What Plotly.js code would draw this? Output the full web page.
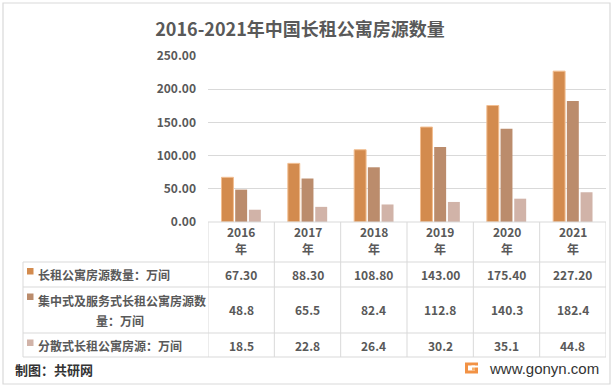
<!DOCTYPE html>
<html>
<head>
<meta charset="utf-8">
<script src="https://cdn.plot.ly/plotly-3.0.1.min.js"></script>
<style>
  html, body { margin: 0; padding: 0; background: #fff; }
  #chart { width: 613px; height: 390px; }
</style>
</head>
<body>
<div id="chart"></div>
<script>
// ---- data ----
var years = ['2016', '2017', '2018', '2019', '2020', '2021'];
var yearSuffix = '年';
var seriesNames = ['长租公寓房源数量：万间', '集中式及服务式长租公寓房源数量：万间', '分散式长租公寓房源：万间'];
var totalUnits = [67.30, 88.30, 108.80, 143.00, 175.40, 227.20];
var centralizedUnits = [48.8, 65.5, 82.4, 112.8, 140.3, 182.4];
var dispersedUnits = [18.5, 22.8, 26.4, 30.2, 35.1, 44.8];
var yTicks = [0, 50, 100, 150, 200, 250];

// ---- styling ----
var colors = ['#D38B4E', '#BB8C6C', '#D1B3A8'];
var gridColor = '#D9D9D9';
var textColor = '#595959';
var cjk = '"Noto Sans CJK SC", "Microsoft YaHei", sans-serif';

var W = 613, H = 390;
var L = 208, R = 606, T = 56, B = 222;
function px(x) { return (x - L) / (R - L); }
function py(y) { return (B - y) / (B - T); }

var traces = [
  { type: 'bar', x: years, y: totalUnits, name: seriesNames[0],
    marker: { color: colors[0], line: { color: '#F2BE91', width: 1 } }, hoverinfo: 'skip' },
  { type: 'bar', x: years, y: centralizedUnits, name: seriesNames[1],
    marker: { color: colors[1], line: { width: 0 } }, hoverinfo: 'skip' },
  { type: 'bar', x: years, y: dispersedUnits, name: seriesNames[2],
    marker: { color: colors[2], line: { width: 0 } }, hoverinfo: 'skip' }
];

var shapes = [];
var annotations = [];
var lineStyle = { color: gridColor, width: 1 };

// outer border
shapes.push({ type: 'rect', xref: 'paper', yref: 'paper',
  x0: px(3), x1: px(610), y0: py(3), y1: py(384), line: { color: '#D9D9D9', width: 1.2 }, layer: 'below' });

// table geometry (pixels)
var rowTops = [222, 262, 287, 333, 357];
var leftX = 23;
// vertical lines of data columns
for (var k = 0; k <= years.length; k++) {
  shapes.push({ type: 'line', xref: 'x', yref: 'paper',
    x0: k - 0.5, x1: k - 0.5, y0: py(222), y1: py(357), line: lineStyle });
}
// left column vertical line
shapes.push({ type: 'line', xref: 'paper', yref: 'paper',
  x0: px(leftX), x1: px(leftX), y0: py(262), y1: py(357), line: lineStyle });
// horizontal lines
shapes.push({ type: 'line', xref: 'paper', yref: 'paper',
  x0: px(L), x1: px(R), y0: py(222), y1: py(222), line: lineStyle });
[262, 287, 333, 357].forEach(function (yy) {
  shapes.push({ type: 'line', xref: 'paper', yref: 'paper',
    x0: px(leftX), x1: px(R), y0: py(yy), y1: py(yy), line: lineStyle });
});

var tFont = { family: cjk, size: 12, color: textColor, weight: 600 };

// header years
years.forEach(function (yr, i) {
  annotations.push({ xref: 'x', yref: 'paper', x: i, y: py(231.5), text: yr,
    showarrow: false, xanchor: 'center', yanchor: 'middle', font: tFont });
  annotations.push({ xref: 'x', yref: 'paper', x: i, y: py(248.5), text: yearSuffix,
    showarrow: false, xanchor: 'center', yanchor: 'middle', font: tFont });
});

// row values
var rowData = [
  { vals: totalUnits, dec: 2, y: 274.5 },
  { vals: centralizedUnits, dec: 1, y: 309.5 },
  { vals: dispersedUnits, dec: 1, y: 345 }
];
rowData.forEach(function (r) {
  r.vals.forEach(function (v, i) {
    annotations.push({ xref: 'x', yref: 'paper', x: i, y: py(r.y), text: v.toFixed(r.dec),
      showarrow: false, xanchor: 'center', yanchor: 'middle', font: tFont });
  });
});

// row labels with legend markers
var markerTops = [268, 293.5, 339.5];
markerTops.forEach(function (mt, i) {
  shapes.push({ type: 'rect', xref: 'paper', yref: 'paper',
    x0: px(27), x1: px(33.5), y0: py(mt), y1: py(mt + 6.5), fillcolor: colors[i], line: { width: 0 } });
});
annotations.push({ xref: 'paper', yref: 'paper', x: px(36), y: py(274.5), text: seriesNames[0],
  showarrow: false, xanchor: 'left', yanchor: 'middle', font: tFont });
var s2a = seriesNames[1].slice(0, 14), s2b = seriesNames[1].slice(14);
annotations.push({ xref: 'paper', yref: 'paper', x: px(36), y: py(300), text: s2a,
  showarrow: false, xanchor: 'left', yanchor: 'middle', font: tFont });
annotations.push({ xref: 'paper', yref: 'paper', x: px(120), y: py(320), text: s2b,
  showarrow: false, xanchor: 'center', yanchor: 'middle', font: tFont });
annotations.push({ xref: 'paper', yref: 'paper', x: px(36), y: py(345), text: seriesNames[2],
  showarrow: false, xanchor: 'left', yanchor: 'middle', font: tFont });

// footer
annotations.push({ xref: 'paper', yref: 'paper', x: px(13), y: py(369), text: '制图：共研网',
  showarrow: false, xanchor: 'left', yanchor: 'middle',
  font: { family: cjk, size: 13, color: '#333333', weight: 600 } });
annotations.push({ xref: 'paper', yref: 'paper', x: px(487), y: py(368), text: 'www.gonyn.com',
  showarrow: false, xanchor: 'left', yanchor: 'middle',
  font: { family: 'Arial, "Liberation Sans", sans-serif', size: 15, color: '#333333' } });
// logo
shapes.push({ type: 'rect', xref: 'paper', yref: 'paper',
  x0: px(465), x1: px(478), y0: py(362.5), y1: py(373.5), fillcolor: '#F29245', line: { width: 0 } });
shapes.push({ type: 'rect', xref: 'paper', yref: 'paper',
  x0: px(471.5), x1: px(478.5), y0: py(365.5), y1: py(367.5), fillcolor: '#FFFFFF', line: { width: 0 } });
shapes.push({ type: 'rect', xref: 'paper', yref: 'paper',
  x0: px(468), x1: px(475), y0: py(365.5), y1: py(370.5), fillcolor: '#FFFFFF', line: { width: 0 } });
shapes.push({ type: 'rect', xref: 'paper', yref: 'paper',
  x0: px(472), x1: px(475), y0: py(367.5), y1: py(370.5), fillcolor: '#F7B36E', line: { width: 0 } });

var layout = {
  width: W, height: H,
  margin: { l: L, r: W - R, t: T, b: H - B, pad: 0 },
  paper_bgcolor: '#FFFFFF', plot_bgcolor: '#FFFFFF',
  showlegend: false,
  barmode: 'group', bargap: 0.38, bargroupgap: 0.13,
  title: { text: '2016-2021年中国长租公寓房源数量', x: px(300), xanchor: 'center', y: 1 - 30 / H, yanchor: 'middle',
    xref: 'paper', font: { family: cjk, size: 18, color: textColor, weight: 'bold' } },
  xaxis: { type: 'category', range: [-0.5, years.length - 0.5], showticklabels: false,
    showgrid: false, zeroline: false, showline: false, ticks: '', fixedrange: true },
  yaxis: { range: [0, 250], tickvals: yTicks, ticktext: yTicks.map(function (v) { return v.toFixed(2); }),
    showgrid: true, gridcolor: gridColor, gridwidth: 1, zeroline: false, showline: false, ticks: '',
    ticklabelstandoff: 11,
    tickfont: { family: cjk, size: 12, color: textColor, weight: 600 }, fixedrange: true },
  shapes: shapes,
  annotations: annotations
};

Plotly.newPlot('chart', traces, layout, { displayModeBar: false, staticPlot: true });
</script>
</body>
</html>
